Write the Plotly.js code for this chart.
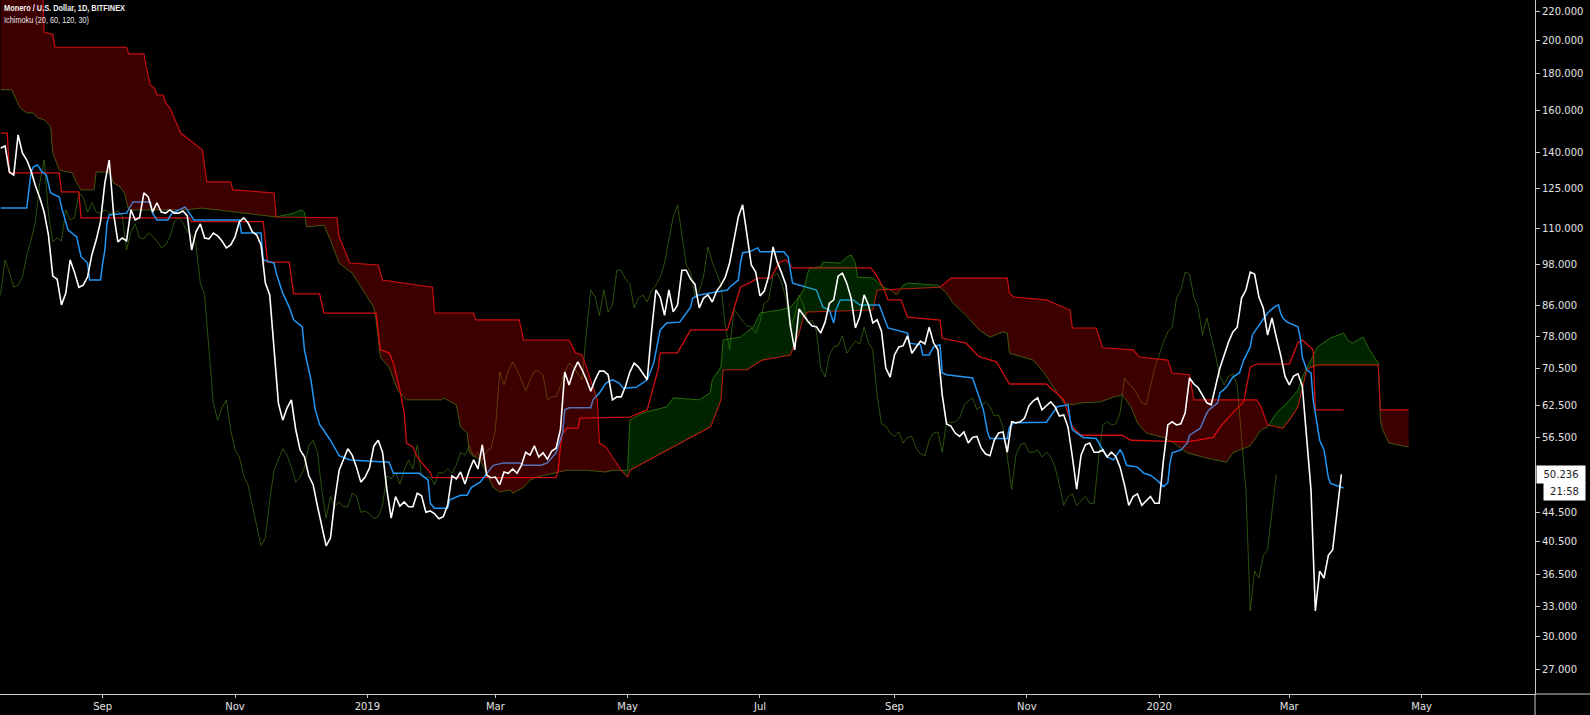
<!DOCTYPE html>
<html><head><meta charset="utf-8">
<script src="https://cdn.plot.ly/plotly-3.0.1.min.js"></script>
<style>html,body{margin:0;padding:0;background:#000;}#chart{width:1590px;height:715px;}</style>
</head><body><div id="chart"></div>
<script>
// ---------- data ----------
const baseDate = '2018-07-16';           // day 0 of every "days" array
const priceStepDays = 2;                  // close sampled every 2 days from baseDate
const closePrices = [
 142.2,143.1,131.7,130.4,148.2,139.9,136.8,132.1,126.0,121.3,
 115.9,107.7,94.5,93.6,86.2,89.5,99.5,95.7,91.2,91.8,
 94.2,101.1,106.0,112.4,127.2,136.8,115.5,105.4,106.7,105.7,
 116.7,113.0,113.8,123.2,121.6,115.9,119.4,115.9,115.5,116.7,
 115.5,115.5,116.3,114.5,102.7,108.8,111.6,106.7,106.4,108.4,
 107.4,105.7,103.4,104.4,107.1,112.4,113.8,112.0,108.8,107.7,
 104.4,92.4,89.0,74.7,63.0,59.7,62.1,63.7,57.9,54.3,
 53.1,50.0,48.6,45.4,42.6,40.0,41.0,46.3,50.9,52.6,
 54.5,53.4,51.4,49.0,49.8,51.3,55.0,56.0,53.9,47.8,
 43.7,46.8,45.4,46.0,45.3,45.3,47.3,46.9,44.5,44.7,
 44.3,43.6,43.9,45.5,50.0,49.5,50.6,48.7,50.9,52.6,
 51.1,55.2,50.1,49.7,49.8,48.6,50.6,50.4,51.1,50.4,
 51.7,53.9,53.4,55.0,53.1,53.8,52.7,54.1,54.6,57.9,
 69.6,66.8,69.8,71.9,70.1,67.9,65.5,67.9,69.8,69.8,
 69.0,63.7,64.3,64.3,66.5,69.6,71.6,70.7,69.4,67.9,
 79.1,90.4,88.4,83.4,90.4,84.3,86.2,96.3,96.3,93.6,
 92.1,85.4,88.1,89.0,87.0,90.1,91.8,94.2,98.5,105.4,
 114.1,118.6,107.0,97.9,95.7,88.7,90.1,94.5,103.7,98.8,
 95.4,91.8,80.6,74.7,85.1,83.4,81.9,80.6,80.4,78.8,
 81.6,86.7,87.6,94.5,95.4,92.4,88.1,80.1,83.1,89.0,
 86.2,81.4,82.2,79.3,70.5,68.5,73.5,75.4,75.7,78.1,
 73.9,75.4,76.8,76.1,80.3,76.4,74.7,64.7,59.0,58.6,
 57.3,56.7,57.5,55.5,56.5,56.7,54.6,53.6,53.3,56.0,
 57.3,57.5,53.9,59.4,59.2,59.4,60.1,62.5,63.5,64.1,
 61.7,62.5,63.3,62.3,60.5,60.7,58.4,53.1,47.9,53.4,
 55.2,55.5,53.9,53.9,54.3,53.1,53.9,53.2,51.4,48.6,
 45.5,46.8,47.2,45.5,46.1,46.8,45.8,45.8,52.6,58.8,
 59.4,58.8,59.0,61.1,68.3,67.0,66.2,64.5,63.1,62.7,
 66.2,70.5,73.5,76.6,79.1,80.3,88.1,90.4,95.7,95.1,
 88.4,85.4,78.3,82.7,77.8,73.5,68.7,66.8,68.7,69.2,
 66.6,56.0,47.8,32.5,36.9,36.1,38.8,39.5,44.4,50.236];
const laggingShiftDays = 30;              // lagging span = close plotted 30 days back

const tenkanDays = [0,12,14,15,17,19,21,23,27,28,31,35,37,40,41,46,47,48,49,50,
 58,61,69,70,72,77,79,85,86,89,110,111,120,121,126,127,130,133,135,139,
 140,143,145,147,152,156,161,175,179,181,193,197,198,200,206,207,209,212,215,217,
 221,226,227,232,239,241,249,252,256,259,260,262,272,273,276,279,282,285,287,293,
 298,301,303,304,307,313,318,319,322,330,335,336,340,341,342,345,349,350,361,363,
 365,376,379,382,384,385,387,393,396,405,409,418,419,424,425,428,430,433,434,436,
 448,451,453,455,456,464,465,467,482,485,487,492,493,494,499,505,508,510,513,516,
 517,519,524,527,530,533,536,538,539,540,544,547,548,553,554,556,557,561,562,565,
 568,571,573,576,577,581,584,587,589,590,591,593,598,599,600,602,604,605,607,608,
 610,611,612,613,619];
const tenkanValues = [117.4,117.4,131.7,133.8,134.7,131.7,130.5,123.2,121.6,117.8,
 109.5,107.1,100.6,98.5,93.3,93.3,98.5,102.7,111.9,114.8,
 115.5,119.7,119.7,115.5,113.0,113.0,115.5,117.8,116.7,113.0,
 113.0,108.4,108.4,99.5,98.5,95.4,89.5,85.6,82.2,80.4,
 74.7,67.9,61.7,58.9,56.0,53.3,52.6,52.2,52.2,50.4,
 50.4,49.3,45.8,45.1,45.1,46.3,46.6,47.0,47.0,48.2,
 49.0,51.4,51.7,52.1,52.1,51.7,51.7,52.1,53.8,57.3,
 61.7,62.1,62.1,63.7,65.1,67.2,67.9,67.2,66.1,66.3,
 67.9,71.6,77.1,79.6,81.4,81.6,85.6,88.1,89.0,89.8,
 90.4,91.2,93.3,98.5,101.8,102.1,103.4,102.1,102.1,100.4,
 92.4,90.4,85.6,84.8,81.4,84.8,87.6,87.6,86.2,86.2,
 80.1,78.8,76.3,75.9,73.5,73.5,75.4,75.9,69.4,69.0,
 68.3,64.3,61.7,57.3,56.3,56.3,58.4,59.2,59.3,61.1,
 62.3,62.7,59.7,57.9,56.5,56.3,54.3,53.1,52.6,54.3,
 53.8,51.7,51.4,50.4,50.1,49.3,48.3,48.9,52.1,53.8,
 54.3,55.5,56.9,58.2,59.2,61.1,61.7,63.1,65.1,66.3,
 68.5,69.4,72.3,75.4,78.4,81.6,84.0,85.6,86.2,84.0,
 82.7,81.6,80.4,77.8,73.0,70.1,69.4,63.7,57.9,56.0,
 54.3,52.1,49.7,48.8,48.1];

const kijunDays = [0,3,4,27,28,36,37,87,88,121,123,133,135,147,149,173,175,179,181,184,
 186,187,190,192,193,198,199,256,257,258,259,261,266,267,290,298,303,304,312,318,
 335,341,345,349,355,359,362,365,368,401,403,407,409,415,418,433,434,445,451,459,
 465,482,490,494,498,517,521,547,559,562,568,573,576,579,594,598,600,605,606,619];
const kijunValues = [149.1,149.1,131.3,131.3,123.6,123.6,113.8,113.8,112.4,112.4,
 98.8,98.8,89.3,89.3,84.0,84.0,74.7,74.0,71.6,65.7,
 61.1,55.5,54.8,53.1,52.6,50.5,49.7,49.7,50.9,55.0,
 57.3,58.2,58.2,60.1,60.3,61.7,70.1,74.0,74.0,79.6,
 79.6,91.2,92.4,93.9,93.9,98.8,99.5,97.0,97.0,97.0,
 95.4,91.0,87.6,87.6,82.9,82.1,77.5,76.3,73.1,71.9,
 67.0,67.0,63.7,58.4,56.9,56.9,56.0,55.7,56.5,58.4,
 61.1,63.3,70.7,71.4,71.4,76.4,77.1,74.7,61.7,61.7];

const spanADays = [0,5,9,12,15,17,20,23,24,27,33,35,37,43,44,50,52,55,57,59,
 86,92,100,127,135,139,140,141,149,152,156,162,169,172,173,175,179,183,187,203,
 204,210,212,215,216,221,227,230,235,236,241,244,247,255,261,270,279,282,289,290,
 296,307,310,322,327,328,332,333,341,347,350,359,364,368,370,372,373,378,379,387,
 390,392,394,395,402,407,410,413,416,418,432,433,436,439,445,451,456,462,464,465,
 476,481,484,490,494,498,507,513,517,521,524,528,536,540,547,554,565,568,571,576,
 581,584,588,593,598,600,604,607,613,619,621,623,628,631,635,636,637,640,649];
const spanAValues = [171.2,171.2,161.5,159.0,159.0,156.5,155.6,152.2,139.9,132.5,
 131.3,127.2,124.4,124.4,131.7,131.7,127.2,125.6,123.2,116.7,
 116.7,117.4,116.7,114.1,115.5,116.7,115.9,110.5,111.2,106.0,
 98.5,95.4,88.4,85.4,82.2,73.0,70.7,65.7,63.7,63.7,
 64.1,62.7,58.4,57.3,53.8,52.6,48.2,47.5,47.8,47.3,
 48.2,49.3,49.8,50.4,50.9,50.9,50.6,50.9,50.9,59.7,
 61.1,62.3,64.1,63.7,65.1,67.9,70.7,77.1,77.8,80.4,
 84.0,84.8,85.6,88.4,90.4,95.4,97.0,97.3,98.8,98.5,
 100.4,101.1,98.5,94.2,93.9,91.2,90.4,89.0,91.8,92.4,
 91.8,91.2,89.5,86.7,83.4,79.6,77.8,79.1,78.8,73.9,
 72.3,69.4,67.2,63.1,62.7,63.1,63.3,64.3,64.7,62.3,
 59.2,57.3,56.5,55.7,53.8,53.1,52.2,53.8,54.3,55.0,
 57.9,58.4,61.1,63.1,65.7,68.5,72.3,75.4,77.6,78.8,
 77.1,76.3,77.8,74.7,71.6,59.7,57.9,55.5,54.8];

const spanBDays = [0,19,20,24,25,58,59,66,67,69,71,72,75,76,78,83,89,93,95,106,
 107,126,127,155,156,161,174,176,199,200,218,219,239,241,262,265,268,270,275,276,
 279,282,286,289,290,327,328,332,333,344,351,359,364,368,370,372,402,404,433,438,
 464,465,467,482,493,494,505,508,522,525,538,540,548,550,579,581,584,591,594,598,
 600,602,604,607,635,636,649];
const spanBValues = [250,250,205.6,204.3,196.0,196.0,191.9,191.9,184.5,173.7,
 172.0,168.3,168.3,164.1,161.5,149.1,144.4,141.2,127.6,127.6,
 124.4,123.2,114.1,113.8,107.1,98.5,97.9,93.3,91.2,84.0,
 84.0,82.2,82.2,77.1,77.1,74.0,73.5,70.7,63.7,55.5,
 54.8,53.1,50.9,49.8,50.9,58.4,59.2,63.7,70.1,70.1,
 72.3,73.0,73.5,78.8,82.9,84.3,84.8,90.4,91.2,93.9,
 93.9,89.5,88.4,87.6,84.8,80.1,80.1,75.2,74.7,73.0,
 72.3,69.4,69.0,63.7,63.7,62.3,58.8,58.2,59.7,62.3,
 66.3,70.1,70.7,71.2,71.2,61.7,61.7];

const yTickValues = [220,200,180,160,140,125,110,98,86,78,70.5,62.5,56.5,44.5,40.5,36.5,33,30,27];
const xTickDates = ['2018-09-01','2018-11-01','2019-01-01','2019-03-01','2019-05-01','2019-07-01',
 '2019-09-01','2019-11-01','2020-01-01','2020-03-01','2020-05-01'];
const xTickLabels = ['Sep','Nov','2019','Mar','May','Jul','Sep','Nov','2020','Mar','May'];
const chartTitle = 'Monero / U.S. Dollar, 1D, BITFINEX';
const indicatorTitle = 'Ichimoku (20, 60, 120, 30)';
const lastPrice = 50.236;
const countdown = '21:58';

// ---------- helpers ----------
const DAY = 86400000;
const [bY, bM, bD] = baseDate.split('-').map(Number);
const BASE = Date.UTC(bY, bM - 1, bD);
const p2 = n => String(n).padStart(2, '0');
function dayToStr(d) {
  const t = new Date(BASE + d * DAY);
  return t.getUTCFullYear() + '-' + p2(t.getUTCMonth() + 1) + '-' + p2(t.getUTCDate()) + ' ' +
    p2(t.getUTCHours()) + ':' + p2(t.getUTCMinutes()) + ':' + p2(t.getUTCSeconds());
}
function interpLog(days, vals, d) {
  if (d <= days[0]) return Math.log10(vals[0]);
  for (let i = 1; i < days.length; i++) {
    if (d <= days[i]) {
      if (days[i] === days[i - 1]) return Math.log10(vals[i]);
      const t = (d - days[i - 1]) / (days[i] - days[i - 1]);
      return Math.log10(vals[i - 1]) + t * (Math.log10(vals[i]) - Math.log10(vals[i - 1]));
    }
  }
  return Math.log10(vals[vals.length - 1]);
}

// ---------- cloud fill polygons (split where span A and span B cross) ----------
const dStart = Math.max(spanADays[0], spanBDays[0]);
const dEnd = Math.min(spanADays[spanADays.length - 1], spanBDays[spanBDays.length - 1]);
const U = Array.from(new Set(spanADays.concat(spanBDays))).filter(d => d >= dStart && d <= dEnd).sort((a, b) => a - b);
const pts = U.map(u => ({ u, a: interpLog(spanADays, spanAValues, u), b: interpLog(spanBDays, spanBValues, u) }));
const polys = [];
let cur = [pts[0]];
let sgn = pts[0].a >= pts[0].b;
for (let i = 1; i < pts.length; i++) {
  const p = pts[i], q = pts[i - 1];
  const s = p.a >= p.b;
  if (s !== sgn) {
    const d0 = q.a - q.b, d1 = p.a - p.b;
    const t = d0 / (d0 - d1);
    const c = { u: q.u + t * (p.u - q.u), a: q.a + t * (p.a - q.a) };
    c.b = c.a;
    cur.push(c);
    polys.push({ up: sgn, pts: cur });
    cur = [c, p];
    sgn = s;
  } else cur.push(p);
}
polys.push({ up: sgn, pts: cur });

const fillTraces = polys.filter(pg => pg.pts.length > 1).map(pg => {
  const fwd = pg.pts, back = pg.pts.slice().reverse();
  return {
    type: 'scatter', mode: 'lines', hoverinfo: 'skip',
    x: fwd.map(p => dayToStr(p.u)).concat(back.map(p => dayToStr(p.u))),
    y: fwd.map(p => Math.pow(10, p.a)).concat(back.map(p => Math.pow(10, p.b))),
    fill: 'toself',
    fillcolor: pg.up ? 'rgba(0,165,0,0.22)' : 'rgba(255,0,0,0.24)',
    line: { width: 0 }
  };
});

// ---------- line traces ----------
const priceX = closePrices.map((v, i) => dayToStr(i * priceStepDays));
const lagX = closePrices.map((v, i) => dayToStr(i * priceStepDays - laggingShiftDays));

const traces = [
  { type: 'scatter', mode: 'lines', x: lagX, y: closePrices, line: { color: 'rgba(70,130,22,0.62)', width: 1 }, hoverinfo: 'skip' },
  { type: 'scatter', mode: 'lines', x: spanADays.map(dayToStr), y: spanAValues, line: { color: '#2f6410', width: 1 }, hoverinfo: 'skip' },
  { type: 'scatter', mode: 'lines', x: spanBDays.map(dayToStr), y: spanBValues, line: { color: '#c81010', width: 1.1 }, hoverinfo: 'skip' },
  { type: 'scatter', mode: 'lines', x: kijunDays.map(dayToStr), y: kijunValues, line: { color: '#d01010', width: 1.3 }, hoverinfo: 'skip' },
  { type: 'scatter', mode: 'lines', x: tenkanDays.map(dayToStr), y: tenkanValues, line: { color: '#2196f3', width: 1.5 }, hoverinfo: 'skip' },
  ...fillTraces,
  { type: 'scatter', mode: 'lines', x: priceX, y: closePrices, line: { color: '#ffffff', width: 1.6 }, hoverinfo: 'skip' }
];

const axisFont = { family: 'DejaVu Sans, Verdana, sans-serif', size: 10, color: '#e2e2e2' };
const titleFont = 'Liberation Sans, Arial, sans-serif';
const plotH = 715 - 21;
const layout = {
  width: 1590, height: 715,
  paper_bgcolor: '#000000', plot_bgcolor: '#000000',
  margin: { l: 0, r: 55, t: 0, b: 21, pad: 0 },
  showlegend: false,
  xaxis: {
    type: 'date', range: [dayToStr(-0.34), dayToStr(707.26)],
    showgrid: false, zeroline: false, showline: true, linecolor: '#c8c8c8', linewidth: 1,
    ticks: 'outside', ticklen: 3, tickcolor: '#c8c8c8',
    tickmode: 'array', tickvals: xTickDates, ticktext: xTickLabels, tickfont: axisFont, fixedrange: true
  },
  yaxis: {
    type: 'log', side: 'right', range: [1.39689, 2.35766],
    showgrid: false, zeroline: false, showline: true, linecolor: '#c8c8c8', linewidth: 1,
    ticks: 'outside', ticklen: 4, tickcolor: '#c8c8c8',
    tickmode: 'array', tickvals: yTickValues, ticktext: yTickValues.map(v => v.toFixed(3)),
    tickfont: axisFont, fixedrange: true
  },
  shapes: [
    { type: 'line', xref: 'paper', yref: 'paper', x0: 1, x1: 1590 / 1535, y0: 0, y1: 0, line: { color: '#c8c8c8', width: 1 } },
    { type: 'line', xref: 'paper', yref: 'paper', x0: 1, x1: 1, y0: -21 / plotH, y1: 0, line: { color: '#c8c8c8', width: 1 } }
  ],
  annotations: [
    { xref: 'paper', yref: 'paper', x: 0, y: 1, xanchor: 'left', yanchor: 'top', xshift: 3, yshift: -1, align: 'left',
      text: '<b>' + chartTitle + '</b>', showarrow: false, borderpad: 0,
      font: { family: titleFont, size: 9.5, color: '#f2f2f2' } },
    { xref: 'paper', yref: 'paper', x: 0, y: 1, xanchor: 'left', yanchor: 'top', xshift: 3, yshift: -12.5, align: 'left',
      text: indicatorTitle, showarrow: false, borderpad: 0,
      font: { family: titleFont, size: 9.5, color: '#e6e6e6' } },
    { xref: 'paper', yref: 'y', x: 1, y: Math.log10(lastPrice), xanchor: 'left', yanchor: 'middle', xshift: 1,
      text: lastPrice.toFixed(3), showarrow: false, bgcolor: '#ffffff', borderpad: 0, width: 48, height: 17,
      font: { family: 'DejaVu Sans, Verdana, sans-serif', size: 10, color: '#222222' } },
    { xref: 'paper', yref: 'y', x: 1, y: Math.log10(lastPrice), xanchor: 'left', yanchor: 'middle', xshift: 8, yshift: -17,
      text: countdown, showarrow: false, bgcolor: '#ffffff', borderpad: 0, width: 41, height: 17,
      font: { family: 'DejaVu Sans, Verdana, sans-serif', size: 10, color: '#222222' } }
  ]
};

Plotly.newPlot('chart', traces, layout, { staticPlot: true, displayModeBar: false }).then(gd => {
  // the reference uses a narrow UI font: squeeze the two header lines to the same widths
  const widths = {};
  widths[chartTitle] = 121;
  widths[indicatorTitle] = 85;
  gd.querySelectorAll('text.annotation-text').forEach(t => {
    const w = widths[t.textContent];
    if (w) { t.setAttribute('textLength', w); t.setAttribute('lengthAdjust', 'spacingAndGlyphs'); }
  });
});
</script>
</body></html>
